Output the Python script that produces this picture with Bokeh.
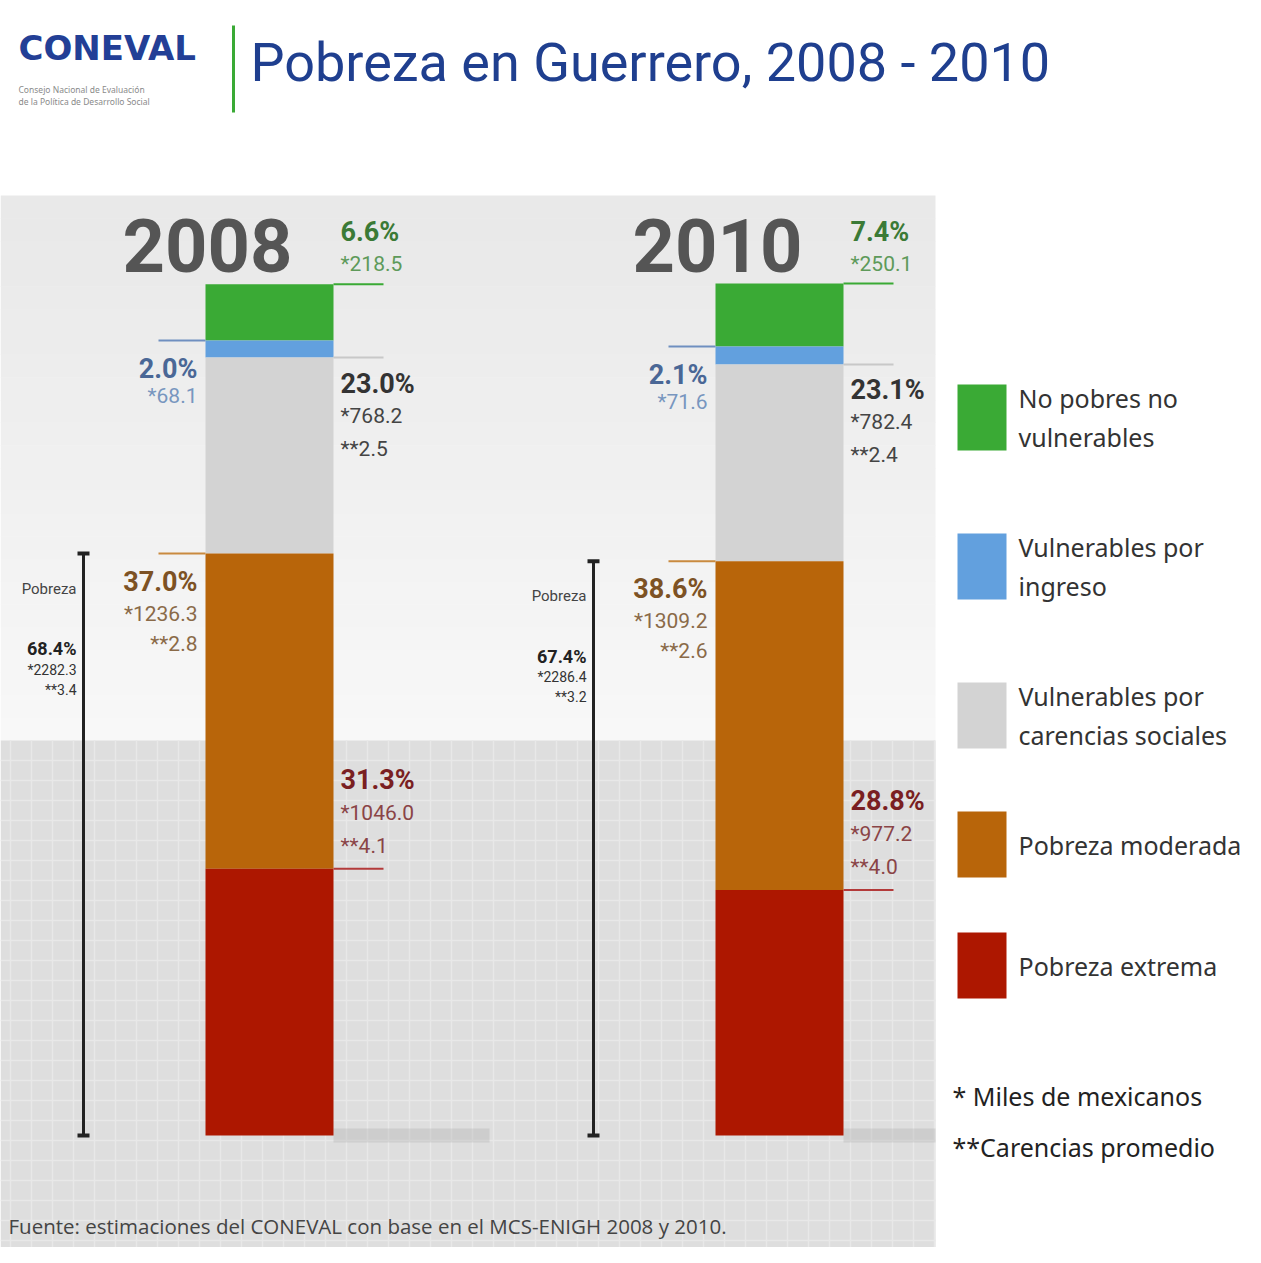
from bokeh.plotting import figure
from bokeh.models import Range1d
from bokeh.core.properties import value
from bokeh.embed import file_html
from bokeh.resources import INLINE

# ---------------- data ----------------
years = ["2008", "2010"]
categories = ["No pobres no vulnerables", "Vulnerables por ingreso",
              "Vulnerables por carencias sociales", "Pobreza moderada", "Pobreza extrema"]
legend_lines = [["No pobres no", "vulnerables"], ["Vulnerables por", "ingreso"],
                ["Vulnerables por", "carencias sociales"], ["Pobreza moderada"], ["Pobreza extrema"]]
pct_2008 = [6.6, 2.0, 23.0, 37.0, 31.3]
pct_2010 = [7.4, 2.1, 23.1, 38.6, 28.8]
miles_2008 = [218.5, 68.1, 768.2, 1236.3, 1046.0]
miles_2010 = [250.1, 71.6, 782.4, 1309.2, 977.2]
carencias_2008 = [None, None, 2.5, 2.8, 4.1]
carencias_2010 = [None, None, 2.4, 2.6, 4.0]
pobreza_pct = [68.4, 67.4]
pobreza_miles = [2282.3, 2286.4]
pobreza_carencias = [3.4, 3.2]

pcts = [pct_2008, pct_2010]
miles = [miles_2008, miles_2010]
carencias = [carencias_2008, carencias_2010]

# ---------------- styles ----------------
colors = ["#3aaa35", "#62a0de", "#d3d3d3", "#b8650a", "#ad1700"]
pct_colors = ["#3b7a36", "#4a6796", "#333333", "#7d5224", "#7a1f22"]
val_colors = ["#5e9a5a", "#7896bf", "#444444", "#8a6a48", "#8a4446"]
line_colors = ["#3aaa35", "#6f8fc0", "#c8c8c8", "#c98a3f", "#b33a3a"]
sides = ["right", "left", "right", "left", "right"]
# pixel offsets (pct label, value, carencias) relative to segment top line
offsets = [(-52, -20, None), (28, 55, None), (26, 58, 91), (28, 60, 90), (-89, -56, -23)]

W, H = 1245, 1247
BASE, PXPCT = 1135.0, 8.52
bar_centers = [269, 779]
bar_w = 128
panel_right = 935

p = figure(width=W, height=H, x_range=Range1d(0, W), y_range=Range1d(H, 0),
           output_backend="svg", toolbar_location=None, min_border=0,
           x_axis_location=None, y_axis_location=None,
           background_fill_color="white", border_fill_color="white", outline_line_color=None)
p.grid.visible = False
p.extra_y_ranges = {"pct": Range1d(start=(BASE - H) / PXPCT, end=BASE / PXPCT)}

# ---------------- background panel ----------------
n_bands = 24
top, mid = 195, 740
for k in range(n_bands):
    y0 = top + (mid - top) * k / n_bands
    y1 = top + (mid - top) * (k + 1) / n_bands
    c = int(0xe9 + (0xf8 - 0xe9) * k / (n_bands - 1))
    p.quad(left=0, right=panel_right, top=y0, bottom=y1 + 0.5, fill_color="#%02x%02x%02x" % (c, c, c),
           line_color=None)
p.quad(left=0, right=panel_right, top=mid, bottom=1263, fill_color="#dedede", line_color=None)
vx = list(range(10, panel_right, 21))
p.segment(x0=vx, y0=[mid] * len(vx), x1=vx, y1=[1263] * len(vx), line_color="#e8e8e8", line_width=1.5)
hy = list(range(mid + 20, 1263, 20))
p.segment(x0=[0] * len(hy), y0=hy, x1=[panel_right] * len(hy), y1=hy, line_color="#e8e8e8", line_width=1.5)

# shadows at bar feet
for cx in bar_centers:
    p.quad(left=cx + bar_w / 2, right=min(cx + 220, panel_right), top=1128, bottom=1142,
           fill_color="#b0b0b0", fill_alpha=0.35, line_color=None)

# ---------------- header ----------------
p.text(x=[18], y=[47], text=["CONEVAL"], text_font=value("DejaVu Sans"), text_font_style="bold",
       text_font_size="34px", text_color="#233f96", text_baseline="middle", text_align="left")
p.text(x=[18, 18], y=[89, 101], text=["Consejo Nacional de Evaluación", "de la Política de Desarrollo Social"],
       text_font=value("Noto Sans"), text_font_size="8.5px", text_color="#8a8a8a",
       text_baseline="middle", text_align="left")
p.segment(x0=[233], y0=[25], x1=[233], y1=[112], line_color="#3aaa35", line_width=3)
p.text(x=[250], y=[62], text=["Pobreza en Guerrero, 2008 - 2010"], text_font=value("Roboto"),
       text_font_size="54px", text_color="#1f3f8f", text_baseline="middle", text_align="left")

# ---------------- bars & labels ----------------
def fmt(v):
    return ("%.1f" % v)

for i, yr in enumerate(years):
    cx = bar_centers[i]
    left, right = cx - bar_w / 2, cx + bar_w / 2
    vals = pcts[i]
    # stack from bottom: extreme, moderate, social, income, not poor
    cum = 0.0
    tops = [0] * 5
    bottoms = [0] * 5
    for j in [4, 3, 2, 1, 0]:
        bottoms[j] = cum
        cum += vals[j]
        tops[j] = cum
    p.quad(left=[left] * 5, right=[right] * 5, bottom=bottoms, top=tops, fill_color=colors,
           line_color=None, y_range_name="pct")

    # year
    p.text(x=[cx - 62], y=[100], y_offset=-38, text=[yr], text_font=value("Roboto"), text_font_style="bold",
           text_font_size="74px", text_color="#555555", text_baseline="middle", text_align="center",
           y_range_name="pct")

    for j in range(5):
        if sides[j] == "right":
            lx0, lx1, tx, al = right, right + 50, right + 7, "left"
        else:
            lx0, lx1, tx, al = left - 47, left, left - 8, "right"
        p.segment(x0=[lx0], y0=[tops[j]], x1=[lx1], y1=[tops[j]], line_color=line_colors[j],
                  line_width=2, y_range_name="pct")
        o1, o2, o3 = offsets[j]
        p.text(x=[tx], y=[tops[j]], y_offset=o1, text=[fmt(vals[j]) + "%"], text_font=value("Roboto"),
               text_font_style="bold", text_font_size="27px", text_color=pct_colors[j],
               text_baseline="middle", text_align=al, y_range_name="pct")
        p.text(x=[tx], y=[tops[j]], y_offset=o2, text=["*" + fmt(miles[i][j])], text_font=value("Roboto"),
               text_font_size="21px", text_color=val_colors[j],
               text_baseline="middle", text_align=al, y_range_name="pct")
        if carencias[i][j] is not None:
            p.text(x=[tx], y=[tops[j]], y_offset=o3, text=["**" + fmt(carencias[i][j])],
                   text_font=value("Roboto"), text_font_size="21px", text_color=val_colors[j],
                   text_baseline="middle", text_align=al, y_range_name="pct")

    # pobreza bracket
    pob_top = vals[3] + vals[4]
    bx = left - 122
    p.segment(x0=[bx], y0=[0], x1=[bx], y1=[pob_top], line_color="#222222", line_width=3, y_range_name="pct")
    p.segment(x0=[bx - 6, bx - 6], y0=[0, pob_top], x1=[bx + 6, bx + 6], y1=[0, pob_top],
              line_color="#222222", line_width=4, y_range_name="pct")
    p.text(x=[bx - 7], y=[pob_top], y_offset=35, text=["Pobreza"], text_font=value("Roboto"),
           text_font_size="15px", text_color="#444444", text_baseline="middle", text_align="right",
           y_range_name="pct")
    p.text(x=[bx - 7], y=[pob_top], y_offset=95, text=[fmt(pobreza_pct[i]) + "%"], text_font=value("Roboto"),
           text_font_style="bold", text_font_size="18px", text_color="#222222", text_baseline="middle",
           text_align="right", y_range_name="pct")
    p.text(x=[bx - 7], y=[pob_top], y_offset=116, text=["*" + fmt(pobreza_miles[i])], text_font=value("Roboto"),
           text_font_size="14px", text_color="#333333", text_baseline="middle", text_align="right",
           y_range_name="pct")
    p.text(x=[bx - 7], y=[pob_top], y_offset=136, text=["**" + fmt(pobreza_carencias[i])],
           text_font=value("Roboto"), text_font_size="14px", text_color="#333333", text_baseline="middle",
           text_align="right", y_range_name="pct")

# ---------------- legend ----------------
leg_centers = [417, 566, 715, 844, 965]
for j in range(5):
    yc = leg_centers[j]
    p.quad(left=[957], right=[1006], top=[yc - 33], bottom=[yc + 33], fill_color=colors[j], line_color=None)
    lines = legend_lines[j]
    n = len(lines)
    for k, t in enumerate(lines):
        p.text(x=[1018], y=[yc + (k - (n - 1) / 2) * 39], text=[t], text_font=value("Noto Sans"),
               text_font_size="25px", text_color="#333333", text_baseline="middle", text_align="left")

p.text(x=[952, 952], y=[1095, 1146], text=["* Miles de mexicanos", "**Carencias promedio"],
       text_font=value("Noto Sans"), text_font_size="25px", text_color="#222222",
       text_baseline="middle", text_align="left")

# ---------------- source ----------------
p.text(x=[8], y=[1225], text=["Fuente: estimaciones del CONEVAL con base en el MCS-ENIGH 2008 y 2010."],
       text_font=value("Open Sans"), text_font_size="20.5px", text_color="#444444",
       text_baseline="middle", text_align="left")

open("out.html", "w").write(file_html(p, INLINE))
